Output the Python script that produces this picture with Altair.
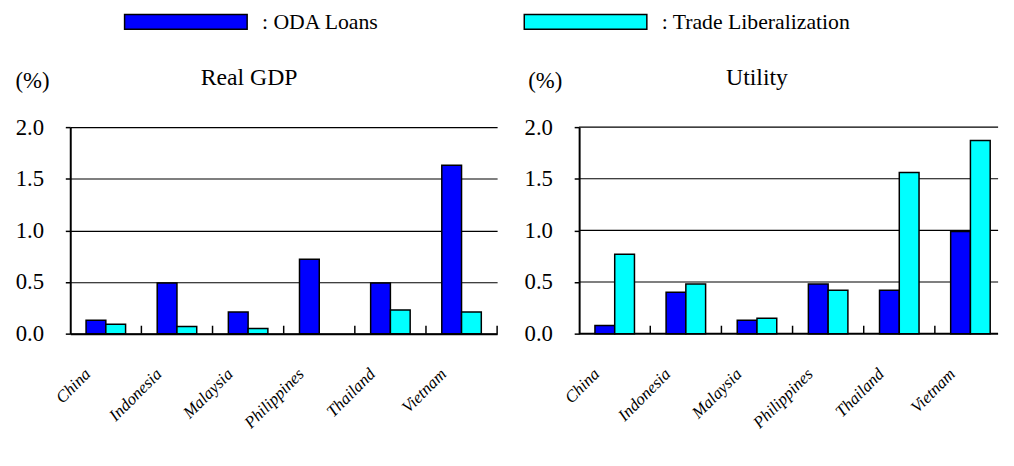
import altair as alt
import pandas as pd

countries = ["China", "Indonesia", "Malaysia", "Philippines", "Thailand", "Vietnam"]
series = ["ODA Loans", "Trade Liberalization"]
gdp_oda = [0.13, 0.49, 0.21, 0.72, 0.49, 1.63]
gdp_trade = [0.09, 0.07, 0.05, 0.0, 0.23, 0.21]
util_oda = [0.08, 0.40, 0.13, 0.48, 0.42, 0.99]
util_trade = [0.77, 0.48, 0.15, 0.42, 1.56, 1.87]
y_ticks = [0.0, 0.5, 1.0, 1.5, 2.0]
colors = ["#0000FF", "#00FFFF"]
panel_titles = ["Real GDP", "Utility"]

FONT = "Liberation Serif"
H = 209


def make_df(oda, trade):
    rows = []
    for c, a, b in zip(countries, oda, trade):
        rows.append({"country": c, "series": series[0], "value": a})
        rows.append({"country": c, "series": series[1], "value": b})
    return pd.DataFrame(rows)


legend = alt.Legend(
    title=None, orient="none", legendX=106, legendY=-117.5, direction="horizontal",
    symbolType="M-8.27,-1L8.27,-1L8.27,1L-8.27,1Z", symbolSize=225,
    symbolStrokeColor="black", symbolStrokeWidth=1.5, symbolOpacity=1,
    labelFontSize=22, labelColor="black", labelLimit=500,
    labelExpr="': ' + datum.label", labelOffset=66, columnPadding=142.5, padding=0,
)


def panel(df, title, dx, width, x_range, tick_countries, title_x, clip_right):
    x_axis = dict(title=None, labelAngle=315, labelAlign="right", labelBaseline="middle",
                  labelOffset=-18, labelPadding=38, ticks=False, domainColor="black",
                  domainWidth=2, labelFontStyle="italic", labelFontSize=17,
                  labelColor="black", grid=False)
    if clip_right:
        x_axis["domain"] = False
    x = alt.X("country:N", sort=countries,
              scale=alt.Scale(paddingInner=0, paddingOuter=0, range=x_range),
              axis=alt.Axis(**x_axis))
    y = alt.Y(
        "value:Q", scale=alt.Scale(domain=[0, 2]),
        axis=alt.Axis(values=y_ticks, format=".1f", title="(%)", titleAngle=0, titleX=title_x,
                      titleY=-40, titleAlign="left", titleBaseline="alphabetic",
                      titleFontSize=23, titleFontWeight="normal", titleColor="black",
                      labelFontSize=23, labelColor="black", labelPadding=22,
                      tickSize=5, tickColor="black", tickWidth=1.5, domainColor="black",
                      domainWidth=2, grid=not clip_right, gridColor="black", gridWidth=1.2,
                      gridOpacity=1),
    )
    layers = []
    if clip_right:
        grid = alt.Chart(pd.DataFrame({"value": y_ticks})).mark_rule(color="black").encode(
            y=y,
            x=alt.value(0), x2=alt.value(width),
            strokeWidth=alt.condition("datum.value === 0", alt.value(2), alt.value(1.2)),
        )
        layers.append(grid)
    bars = alt.Chart(df).transform_filter("datum.value > 0").mark_bar(
        stroke="black", strokeWidth=1.5).encode(
        x=x,
        xOffset=alt.XOffset("series:N", sort=series,
                            scale=alt.Scale(paddingInner=0, paddingOuter=0.8)),
        y=y,
        fill=alt.Fill("series:N", sort=series,
                      scale=alt.Scale(domain=series, range=colors), legend=legend),
    )
    ticks = alt.Chart(pd.DataFrame({"country": tick_countries})).mark_rule(
        color="black", strokeWidth=1.5).encode(
        x=alt.X("country:N", sort=countries, bandPosition=1),
        y=alt.value(H), y2=alt.value(H - 8),
    )
    layers += [bars, ticks]
    return alt.layer(*layers).properties(
        width=width, height=H,
        title=alt.TitleParams(title, dx=dx, dy=43, frame="group", anchor="middle",
                              fontSize=24, fontWeight="normal", color="black",
                              baseline="alphabetic", offset=4),
    )


left = panel(make_df(gdp_oda, gdp_trade), panel_titles[0], -35, 432, [0, 432],
             countries, -56, False)
right = panel(make_df(util_oda, util_trade), panel_titles[1], -32, 424, [0, 432],
              countries[:-1], -52, True)

chart = (
    alt.hconcat(left, right, spacing=26)
    .resolve_scale(fill="shared")
    .properties(padding={"left": 7, "top": 0, "right": 0, "bottom": 0})
    .configure(background="white", font=FONT)
    .configure_axis(labelFont=FONT, titleFont=FONT)
    .configure_legend(labelFont=FONT, titleFont=FONT)
    .configure_title(font=FONT)
    .configure_view(stroke=None)
)

chart.save("out.html", embed_options={"renderer": "svg", "actions": False})
